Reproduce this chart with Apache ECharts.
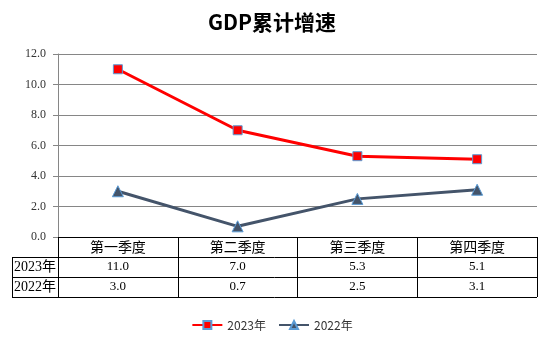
<!DOCTYPE html>
<html>
<head>
<meta charset="utf-8">
<script src="https://cdn.jsdelivr.net/npm/echarts@6/dist/echarts.min.js"></script>
<style>html,body{margin:0;padding:0;background:#fff}#c{width:544px;height:341px}</style>
</head>
<body>
<div id="c"></div>
<script>
const categories = ['第一季度', '第二季度', '第三季度', '第四季度'];
const seriesNames = ['2023年', '2022年'];
const values2023 = [11.0, 7.0, 5.3, 5.1];
const values2022 = [3.0, 0.7, 2.5, 3.1];
const yMin = 0, yMax = 12, yStep = 2;

const serif = '"Liberation Serif", "DejaVu Serif", "Noto Sans CJK SC", serif';
const chart = echarts.init(document.getElementById('c'));
chart.setOption({
  animation: false,
  backgroundColor: '#fff',
  title: {
    text: 'GDP累计增速', left: 'center', top: 7,
    textStyle: { fontSize: 21, fontWeight: 'bold', color: '#000', fontFamily: '"Noto Sans CJK SC", "DejaVu Sans", sans-serif' }
  },
  legend: {
    bottom: 5, left: 'center', itemWidth: 30, itemHeight: 10, itemGap: 12,
    textStyle: { fontSize: 12, color: '#333', fontFamily: '"Noto Sans CJK SC", sans-serif' },
    data: seriesNames
  },
  grid: { left: 58, right: 7, top: 54, bottom: 104, containLabel: false },
  xAxis: {
    type: 'category', data: categories, boundaryGap: true,
    axisLine: { show: true, lineStyle: { color: '#000', width: 1 } },
    axisTick: { show: true, length: 60, lineStyle: { color: '#000', width: 1 } },
    axisLabel: { margin: 4, fontSize: 14, color: '#000', fontFamily: serif },
    splitLine: { show: false }
  },
  yAxis: {
    type: 'value', min: yMin, max: yMax, interval: yStep,
    axisLine: { show: true, lineStyle: { color: '#868686', width: 1 } },
    axisTick: { show: true, length: 5, lineStyle: { color: '#868686' } },
    axisLabel: { formatter: v => v.toFixed(1), fontSize: 12, color: '#333', fontFamily: serif, margin: 12 },
    splitLine: { show: true, lineStyle: { color: '#868686', width: 1 } }
  },
  series: [
    {
      name: seriesNames[0], type: 'line', data: values2023,
      symbol: 'rect', symbolSize: 9, color: '#ff0000',
      lineStyle: { color: '#ff0000', width: 3 },
      itemStyle: { color: '#ff0000', borderColor: '#5B9BD5', borderWidth: 1 },
      z: 3
    },
    {
      name: seriesNames[1], type: 'line', data: values2022,
      symbol: 'triangle', symbolSize: 11, color: '#44546A',
      lineStyle: { color: '#44546A', width: 3 },
      itemStyle: { color: '#44546A', borderColor: '#5B9BD5', borderWidth: 1 },
      z: 2
    }
  ]
});

// data table below the plot, positioned from the axis scales
const xs = categories.map(c => chart.convertToPixel({ xAxisIndex: 0 }, c));
const bw = xs[1] - xs[0];
const right = xs[xs.length - 1] + bw / 2;
const yBase = chart.convertToPixel({ yAxisIndex: 0 }, yMin);
const rowH = 20;
const tableLeft = 12;
const els = [];
const lineStyle = { stroke: '#000', lineWidth: 1 };
[1, 2, 3].forEach(r => {
  const y = Math.round(yBase + r * rowH) + 0.5;
  els.push({ type: 'line', shape: { x1: tableLeft, y1: y, x2: right, y2: y }, style: lineStyle });
});
els.push({ type: 'line', shape: { x1: tableLeft + 0.5, y1: Math.round(yBase + rowH), x2: tableLeft + 0.5, y2: Math.round(yBase + 3 * rowH) + 1 }, style: lineStyle });
const rows = [values2023, values2022];
rows.forEach((vals, r) => {
  const yc = yBase + (r + 1.5) * rowH;
  els.push({ type: 'text', x: tableLeft + 2, y: yc, style: { text: seriesNames[r], fill: '#000', font: '14px ' + serif, textAlign: 'left', textVerticalAlign: 'middle' } });
  vals.forEach((v, i) => {
    els.push({ type: 'text', x: xs[i], y: yc, style: { text: v.toFixed(1), fill: '#000', font: '13px ' + serif, textAlign: 'center', textVerticalAlign: 'middle' } });
  });
});
chart.setOption({ graphic: els });
</script>
</body>
</html>
